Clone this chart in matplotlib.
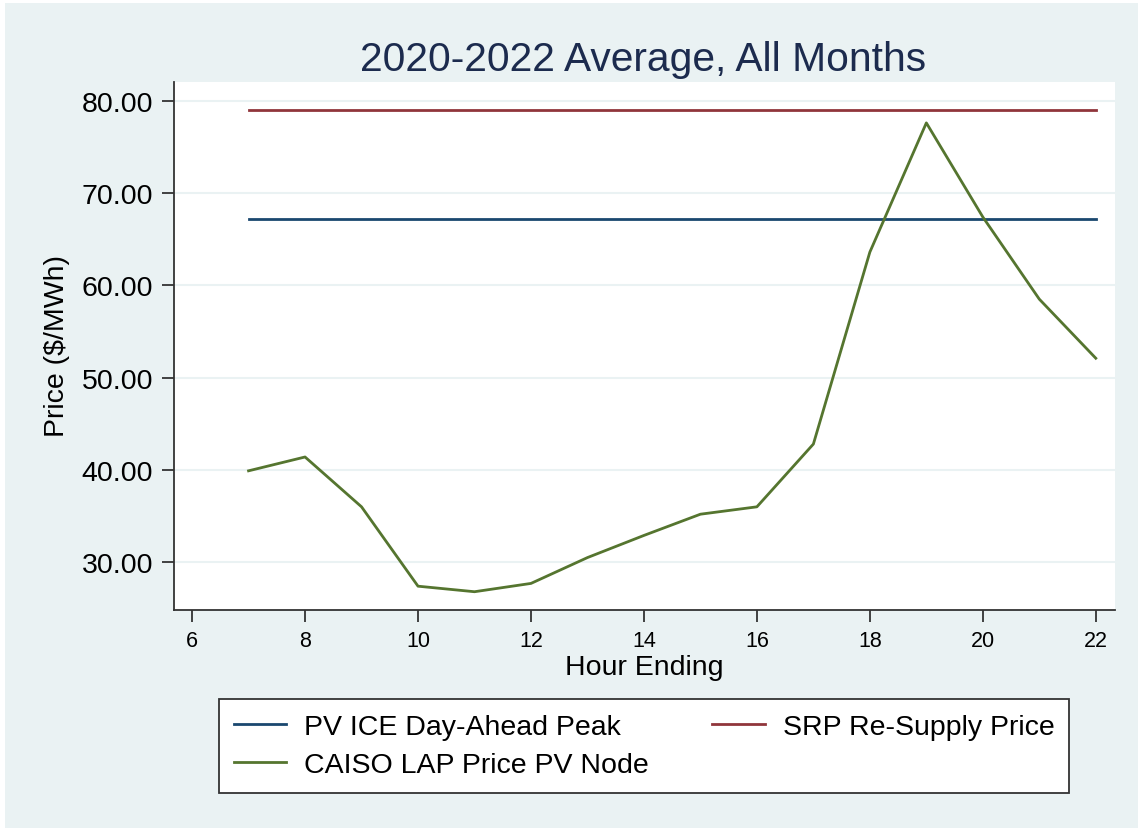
import matplotlib.pyplot as plt
from matplotlib.patches import Rectangle

plt.rcParams['font.family'] = ['Liberation Sans', 'DejaVu Sans']

hours = [7, 8, 9, 10, 11, 12, 13, 14, 15, 16, 17, 18, 19, 20, 21, 22]
caiso_lap = [39.9, 41.4, 36.0, 27.4, 26.8, 27.7, 30.5, 32.9, 35.2, 36.0,
             42.8, 63.6, 77.6, 67.4, 58.5, 52.1]
ice_peak = [67.2] * len(hours)
srp_resupply = [79.0] * len(hours)
yticks = [30, 40, 50, 60, 70, 80]
xticks = [6, 8, 10, 12, 14, 16, 18, 20, 22]

bg = '#EAF2F3'
W, H = 1138, 829

fig = plt.figure(figsize=(W / 100, H / 100), dpi=100, facecolor='white')
fig.patches.append(Rectangle((5 / W, 0), 1, 1 - 4 / H, transform=fig.transFigure,
                             facecolor=bg, edgecolor='none', zorder=-10))

# plot region in pixels: left 174, right 1115, top 83, bottom 611
ax = fig.add_axes([174 / W, 1 - 611 / H, (1115 - 174) / W, (611 - 83) / H])
ax.set_facecolor('white')

l1, = ax.plot(hours, ice_peak, color='#1A476F', lw=2)
l2, = ax.plot(hours, srp_resupply, color='#90353B', lw=2)
l3, = ax.plot(hours, caiso_lap, color='#55752F', lw=2)

ax.set_xlim(5.68, 22.34)
ax.set_ylim(24.82, 82.03)
ax.set_yticks(yticks)
ax.set_yticklabels([f'{v:.2f}' for v in yticks], fontsize=20.5)
ax.set_xticks(xticks)
ax.set_xticklabels([str(v) for v in xticks], fontsize=15.5)
ax.yaxis.grid(True, color=bg, lw=1.5)
ax.set_axisbelow(True)

for s in ['top', 'right']:
    ax.spines[s].set_visible(False)
for s in ['left', 'bottom']:
    ax.spines[s].set_color('#333333')
    ax.spines[s].set_linewidth(1.3)
ax.tick_params(direction='out', length=8.6, width=1.3, color='#333333')
ax.tick_params(axis='y', pad=6.5)
ax.tick_params(axis='x', pad=5.5)

fig.text(57 / W, 1 - 346.5 / H, 'Price ($/MWh)', fontsize=20.5, rotation=90,
         ha='center', va='center')
fig.text(644 / W, 1 - 675 / H, 'Hour Ending', fontsize=20.5, ha='center', va='baseline')
fig.text(643 / W, 1 - 71 / H, '2020-2022 Average, All Months', fontsize=29.3,
         color='#1C2B4E', ha='center', va='baseline')

leg = fig.legend([l1, l3, l2], ['PV ICE Day-Ahead Peak', 'CAISO LAP Price PV Node', 'SRP Re-Supply Price'],
                 ncol=2, loc='center', bbox_to_anchor=(644 / W, 1 - 747 / H),
                 fontsize=20.5, frameon=True, fancybox=False, framealpha=1,
                 handlelength=1.86, handletextpad=0.63, columnspacing=2.2,
                 labelspacing=0.43, borderpad=0.52, borderaxespad=0)
leg.get_frame().set_edgecolor('#333333')
leg.get_frame().set_linewidth(1.3)
leg.get_frame().set_facecolor('white')

fig.savefig('out.png', dpi=100, facecolor=fig.get_facecolor())
